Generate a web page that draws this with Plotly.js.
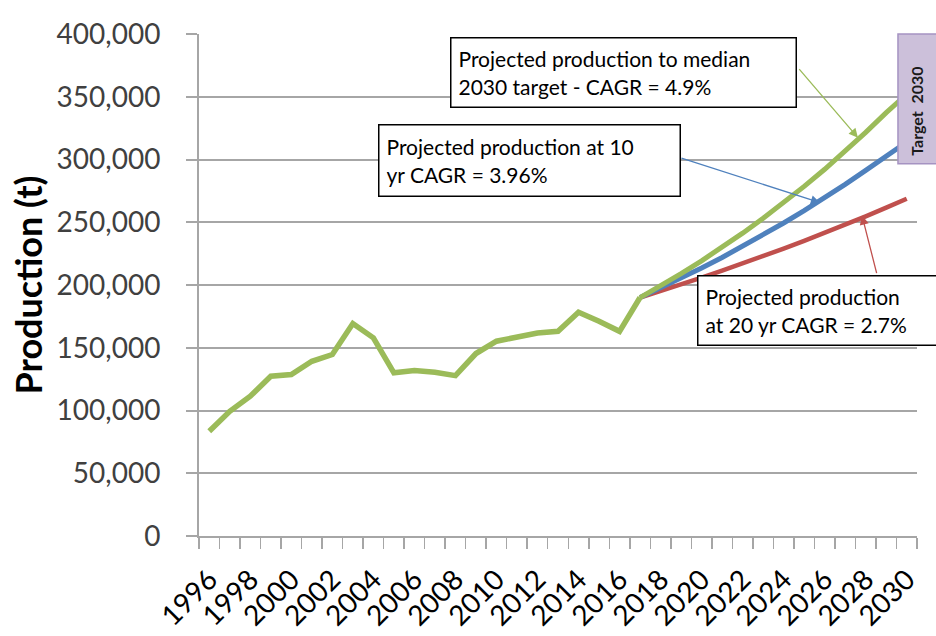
<!DOCTYPE html>
<html>
<head>
<meta charset="utf-8">
<script src="https://cdn.plot.ly/plotly-3.0.1.min.js"></script>
<style>
  html, body { margin: 0; padding: 0; background: #ffffff; }
  #chart { width: 936px; height: 636px; }
</style>
</head>
<body>
<div id="chart"></div>
<script>
// Historical production (t), 1996-2017
const histYears = [1996,1997,1998,1999,2000,2001,2002,2003,2004,2005,2006,2007,2008,2009,2010,2011,2012,2013,2014,2015,2016,2017];
const histValues = [83500,99400,111400,127300,128600,139200,144600,169300,157900,130000,131800,130500,127800,145400,155200,158700,161800,163100,178300,171100,163100,190000];

// Projections, 2017-2030
const projYears = [2017,2018,2019,2020,2021,2022,2023,2024,2025,2026,2027,2028,2029,2030];
const projMedianTarget = [190000,199300,209100,219300,230100,241300,253200,265600,278600,292200,306500,321600,337300,352000];
const proj10yr = [190000,197500,205400,213500,221900,230700,239900,249400,259200,269500,280200,291300,302800,314000];
const proj20yr = [190000,195100,200400,205800,211400,217100,222900,229000,235200,241500,248000,254700,261600,268700];

// Axis ticks
const xTickVals = [1996,1998,2000,2002,2004,2006,2008,2010,2012,2014,2016,2018,2020,2022,2024,2026,2028,2030];
const yTickVals = [0,50000,100000,150000,200000,250000,300000,350000,400000];

// Annotation texts
const labelMedian = "Projected production to median<br>2030 target - CAGR = 4.9%";
const label10 = "Projected production at 10<br>yr CAGR = 3.96%";
const label20 = "Projected production<br>at 20 yr CAGR = 2.7%";
const labelTarget = "Target  2030";

const GREEN = "#9bbb59", BLUE = "#4f81bd", RED = "#c0504d", GRID = "#a6a6a6";

const traces = [
  { x: projYears, y: proj20yr, type: "scatter", mode: "lines", line: { color: RED, width: 4.5 }, hoverinfo: "skip" },
  { x: projYears, y: proj10yr, type: "scatter", mode: "lines", line: { color: BLUE, width: 5 }, hoverinfo: "skip" },
  { x: projYears, y: projMedianTarget, type: "scatter", mode: "lines", line: { color: GREEN, width: 5 }, hoverinfo: "skip" },
  { x: histYears, y: histValues, type: "scatter", mode: "lines", line: { color: GREEN, width: 5.5 }, hoverinfo: "skip" }
];

const boxFont = { family: "Lato, sans-serif", size: 21, color: "#000000" };

const layout = {
  width: 936, height: 636,
  margin: { l: 199, r: 19, t: 34, b: 100 },
  paper_bgcolor: "#ffffff", plot_bgcolor: "#ffffff",
  showlegend: false,
  font: { family: "Lato, sans-serif" },
  xaxis: {
    type: "linear",
    range: [1995.5, 2030.5],
    tickmode: "array", tickvals: xTickVals,
    ticks: "", tickangle: -45,
    tickfont: { family: "Lato, sans-serif", size: 28, color: "#000000" },
    ticklabelstandoff: 14,
    showgrid: false, zeroline: false,
    showline: true, linecolor: GRID, linewidth: 2,
    minor: { tick0: 1995.5, dtick: 1, ticks: "outside", ticklen: 11, tickcolor: GRID, tickwidth: 1.5, showgrid: false }
  },
  yaxis: {
    range: [0, 400000],
    tickmode: "array", tickvals: yTickVals,
    tickformat: ",d",
    ticks: "outside", ticklen: 11, tickcolor: GRID, tickwidth: 2,
    tickfont: { family: "Lato, sans-serif", size: 28, color: "#404040" },
    ticklabelstandoff: 20,
    showgrid: true, gridcolor: GRID, gridwidth: 2,
    zeroline: false,
    showline: true, linecolor: GRID, linewidth: 2,
    title: { text: "<b>Production (t)</b>", font: { family: "Lato, sans-serif", size: 36, color: "#000000" }, standoff: 3 }
  },
  shapes: [
    { type: "rect", xref: "paper", yref: "paper", x0: 0.9735, x1: 1.06, y0: 0.7417, y1: 1.0,
      fillcolor: "#ccc0da", line: { color: "#a593c2", width: 1.5 }, layer: "above" }
  ],
  annotations: [
    { xref: "paper", yref: "paper", x: 0.3496, y: 0.9946, xanchor: "left", yanchor: "top",
      text: labelMedian, showarrow: false, align: "left", font: boxFont,
      bgcolor: "#ffffff", bordercolor: "#000000", borderwidth: 1.5, borderpad: 7, width: 330, height: 54 },
    { xref: "paper", yref: "paper", x: 0.2493, y: 0.8214, xanchor: "left", yanchor: "top",
      text: label10, showarrow: false, align: "left", font: boxFont,
      bgcolor: "#ffffff", bordercolor: "#000000", borderwidth: 1.5, borderpad: 7, width: 286, height: 56 },
    { xref: "paper", yref: "paper", x: 0.6936, y: 0.5207, xanchor: "left", yanchor: "top",
      text: label20, showarrow: false, align: "left", font: boxFont,
      bgcolor: "#ffffff", bordercolor: "#000000", borderwidth: 1.5, borderpad: 7, width: 240, height: 54 },
    { xref: "paper", yref: "paper", x: 1.0, y: 0.845, xanchor: "center", yanchor: "middle",
      text: "<b>" + labelTarget + "</b>", textangle: -90, showarrow: false,
      font: { family: "Lato, sans-serif", size: 16, color: "#1a1a1a" } },
    // arrows
    { x: 2027.62, y: 317400, xref: "x", yref: "y", text: "", showarrow: true, ax: -60, ay: -70,
      arrowhead: 2, arrowsize: 1.4, arrowwidth: 1.3, arrowcolor: GREEN, standoff: 0 },
    { x: 2025.77, y: 265600, xref: "x", yref: "y", text: "", showarrow: true, ax: -140, ay: -45,
      arrowhead: 2, arrowsize: 1.4, arrowwidth: 1.3, arrowcolor: BLUE, standoff: 0 },
    { x: 2027.82, y: 255300, xref: "x", yref: "y", text: "", showarrow: true, ax: 15, ay: 59,
      arrowhead: 2, arrowsize: 1.4, arrowwidth: 1.3, arrowcolor: RED, standoff: 0 }
  ]
};

Plotly.newPlot("chart", traces, layout, { displayModeBar: false, staticPlot: true });
</script>
</body>
</html>
